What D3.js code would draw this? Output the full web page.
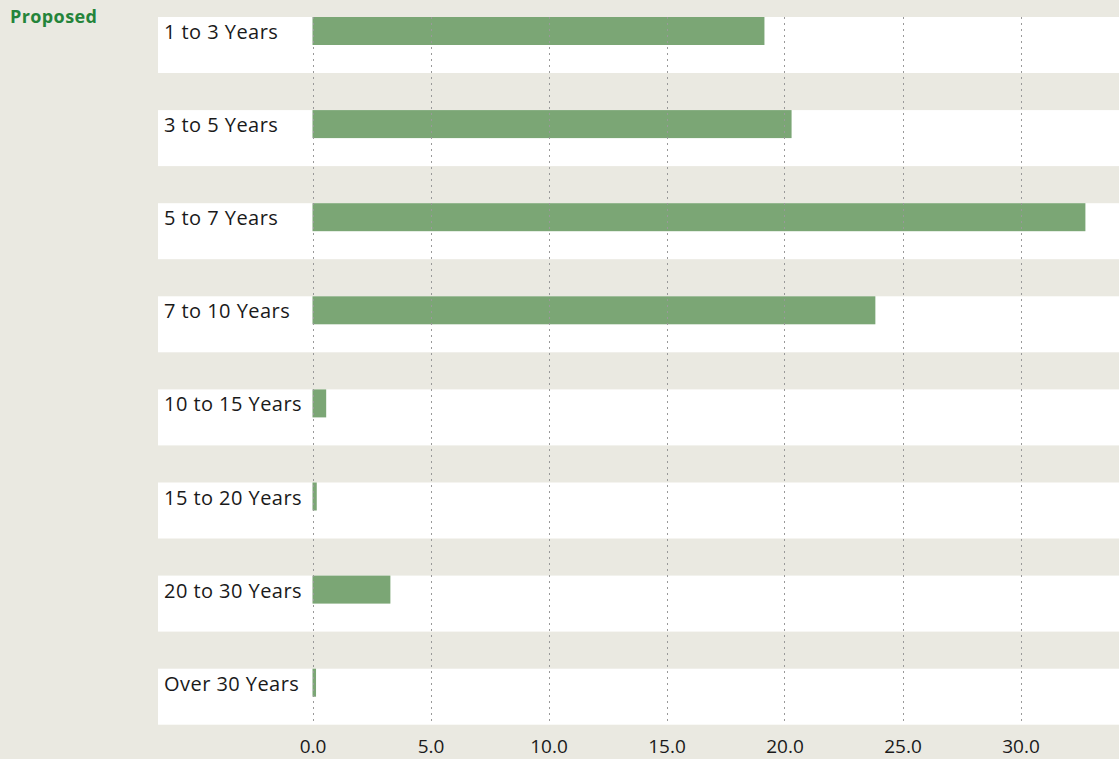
<!DOCTYPE html>
<html><head><meta charset="utf-8">
<script src="https://cdn.jsdelivr.net/npm/d3@7"></script>
<style>body{margin:0;background:#eae9e1;}svg{display:block;}</style>
</head><body>
<script>
const categories = ["1 to 3 Years","3 to 5 Years","5 to 7 Years","7 to 10 Years","10 to 15 Years","15 to 20 Years","20 to 30 Years","Over 30 Years"];
const values = [19.15, 20.3, 32.75, 23.85, 0.58, 0.18, 3.3, 0.15];
const tickValues = [0, 5, 10, 15, 20, 25, 30];
const chartTitle = "Proposed";

(function () {
const W = 1119, H = 759;
const svg = d3.select("body").append("svg").attr("width", W).attr("height", H);
svg.append("rect").attr("width", W).attr("height", H).attr("fill", "#eae9e1");

const x = d3.scaleLinear().domain([0, 30]).range([312.5, 1020.5]);
const rowPitch = 93.1, y0 = 17;
const y = d3.scaleBand().domain(categories).range([y0, y0 + rowPitch * categories.length]).paddingInner(0).paddingOuter(0);

svg.selectAll("rect.band").data(categories).enter().append("rect")
  .attr("class", "band")
  .attr("x", 158).attr("width", W - 158)
  .attr("y", d => y(d)).attr("height", 56)
  .attr("fill", "#ffffff");

svg.selectAll("rect.bar").data(values).enter().append("rect")
  .attr("class", "bar")
  .attr("x", x(0)).attr("y", (d, i) => y(categories[i]))
  .attr("width", d => x(d) - x(0)).attr("height", 28)
  .attr("fill", "#7ba675");

svg.selectAll("line.grid").data(tickValues).enter().append("line")
  .attr("class", "grid")
  .attr("x1", d => Math.round(x(d)) + 0.5).attr("x2", d => Math.round(x(d)) + 0.5)
  .attr("y1", y0).attr("y2", 722)
  .attr("stroke", "#999").attr("stroke-width", 1).attr("stroke-dasharray", "2,4");

svg.selectAll("text.cat").data(categories).enter().append("text")
  .attr("class", "cat")
  .attr("x", 164).attr("y", d => y(d) + 22)
  .attr("font-family", "Open Sans, sans-serif").attr("font-size", 20)
  .attr("letter-spacing", 0.45)
  .attr("fill", "#1a1a1a").text(d => d);

const axis = d3.axisBottom(x).tickValues(tickValues).tickFormat(d3.format(".1f")).tickSize(0).tickPadding(0);
const g = svg.append("g").attr("transform", "translate(0,739)").call(axis);
g.select(".domain").remove();
g.selectAll("text").attr("font-family", "Open Sans, sans-serif").attr("font-size", 19)
  .attr("fill", "#1a1a1a").attr("dy", "0.71em");

svg.append("text").attr("x", 10).attr("y", 23)
  .attr("font-family", "Open Sans, sans-serif").attr("font-weight", "bold").attr("font-size", 18)
  .attr("letter-spacing", 0.4)
  .attr("fill", "#24843a").text(chartTitle);
})();
</script>
</body></html>
